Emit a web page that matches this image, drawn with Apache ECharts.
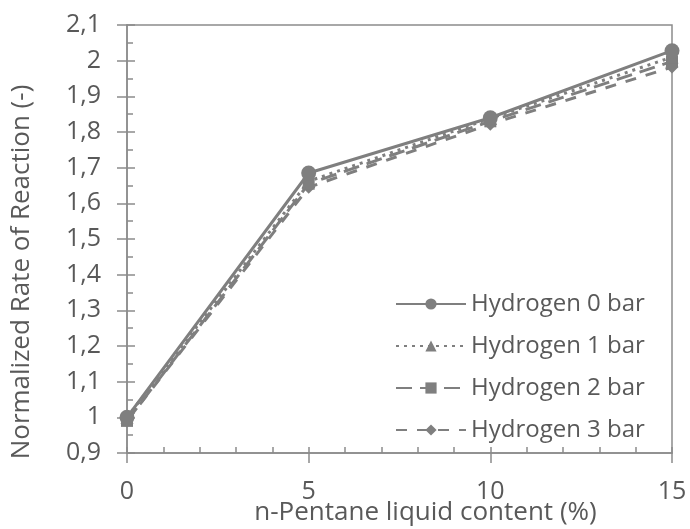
<!DOCTYPE html>
<html><head><meta charset="utf-8">
<script src="https://cdn.jsdelivr.net/npm/echarts@6/dist/echarts.min.js"></script>
<style>html,body{margin:0;padding:0;background:#fff}#c{width:690px;height:529px}</style>
</head><body><div id="c"></div>
<script>
const xValues = [0, 5, 10, 15];
const h0 = [1.00, 1.685, 1.840, 2.028];
const h1 = [1.00, 1.662, 1.838, 2.010];
const h2 = [0.99, 1.655, 1.830, 1.998];
const h3 = [0.99, 1.645, 1.822, 1.982];
const seriesNames = ['Hydrogen 0 bar', 'Hydrogen 1 bar', 'Hydrogen 2 bar', 'Hydrogen 3 bar'];
const seriesData = [h0, h1, h2, h3];
const symbols = ['circle', 'triangle', 'rect', 'diamond'];
const symbolSizes = [15, 13, 12, 13];
const lineTypes = ['solid', [3, 5], [16, 8], [11, 10]];

const grey = '#7f7f7f';
const txt = '#595959';
const axisCol = '#8c8c8c';
const font = 'Open Sans';
const fs = 25;
const fmt = v => String(Math.round(v * 10) / 10).replace('.', ',');

const chart = echarts.init(document.getElementById('c'));
chart.setOption({
  animation: false,
  grid: {left: 127, top: 25, right: 18, bottom: 76, show: true, borderColor: axisCol, borderWidth: 1.5,
         containLabel: false, outerBoundsMode: 'none'},
  legend: {
    orient: 'vertical', left: 390, top: 286, itemWidth: 70, itemHeight: 14, itemGap: 16,
    textStyle: {color: txt, fontSize: 24, fontFamily: font, lineHeight: 26},
    data: seriesNames
  },
  xAxis: [{
    type: 'value', min: 0, max: 15, interval: 5, position: 'bottom',
    name: 'n-Pentane liquid content (%)', nameLocation: 'middle', nameGap: 47, nameMoveOverlap: false,
    nameTextStyle: {color: txt, fontSize: 26, fontFamily: font, padding: [0, 0, 0, 52]},
    axisLine: {onZero: false, lineStyle: {color: axisCol, width: 1.5}},
    axisTick: {show: true, length: 10, lineStyle: {color: axisCol, width: 1.5}},
    axisLabel: {color: txt, fontSize: fs, fontFamily: font, margin: 26, formatter: fmt},
    splitLine: {show: false}
  }, {
    type: 'value', min: 0, max: 15, interval: 5, position: 'top', offset: -428,
    axisLine: {show: false, onZero: false},
    axisTick: {show: true, length: 6, lineStyle: {color: axisCol, width: 1.5}},
    minorTick: {show: true, splitNumber: 5, length: 6, lineStyle: {color: axisCol, width: 1.5}},
    axisLabel: {show: false}, splitLine: {show: false}
  }],
  yAxis: [{
    type: 'value', min: 0.9, max: 2.1, interval: 0.1, position: 'left',
    name: 'Normalized Rate of Reaction (-)', nameLocation: 'middle', nameGap: 92, nameRotate: 90,
    nameMoveOverlap: false,
    nameTextStyle: {color: txt, fontSize: 26, fontFamily: font, padding: [0, 66, 0, 0]},
    axisLine: {show: true, onZero: false, lineStyle: {color: axisCol, width: 1.5}},
    axisTick: {show: true, length: 10, lineStyle: {color: axisCol, width: 1.5}},
    axisLabel: {color: txt, fontSize: fs, fontFamily: font, margin: 26, formatter: fmt},
    splitLine: {show: false}
  }, {
    type: 'value', min: 0.9, max: 2.1, interval: 0.1, position: 'right', offset: -545,
    axisLine: {show: false, onZero: false},
    axisTick: {show: true, length: 8, lineStyle: {color: axisCol, width: 1.5}},
    minorTick: {show: true, splitNumber: 2, length: 6, lineStyle: {color: axisCol, width: 1.5}},
    axisLabel: {show: false}, splitLine: {show: false}
  }],
  series: seriesNames.map((n, i) => ({
    name: n, type: 'line', xAxisIndex: 0, yAxisIndex: 0,
    data: xValues.map((x, j) => [x, seriesData[i][j]]),
    symbol: symbols[i], symbolSize: symbolSizes[i], showSymbol: true,
    itemStyle: {color: grey},
    lineStyle: {color: grey, width: 3, type: lineTypes[i]},
    z: 10 - i
  }))
});
</script></body></html>
